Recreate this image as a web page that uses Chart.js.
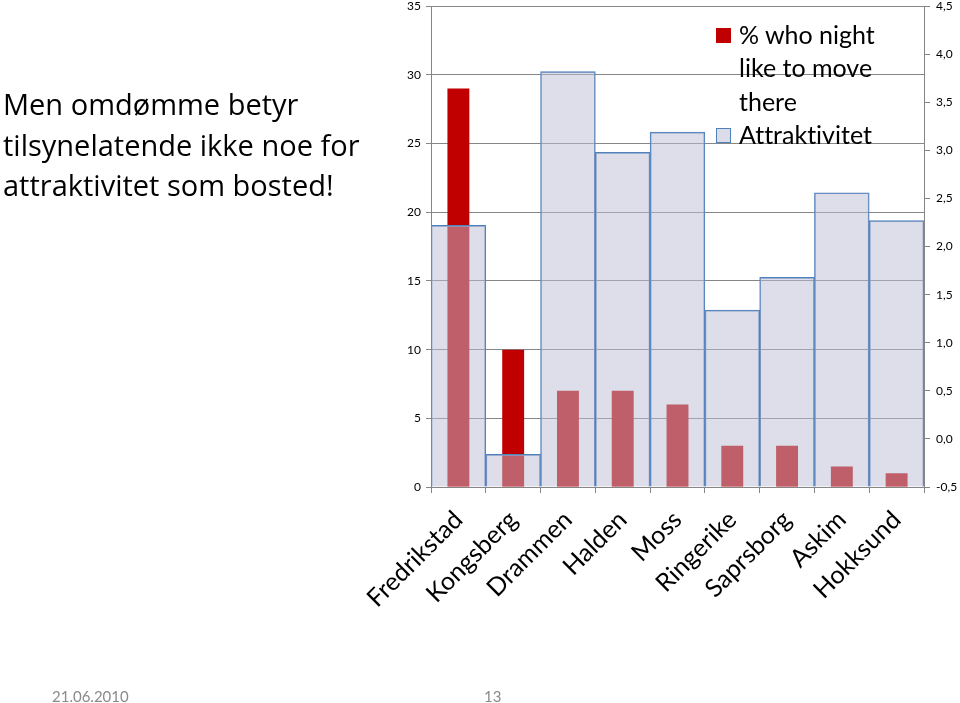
<!DOCTYPE html>
<html>
<head>
<meta charset="utf-8">
<script src="https://cdn.jsdelivr.net/npm/chart.js@4/dist/chart.umd.min.js"></script>
<style>
  html, body { margin:0; padding:0; background:#fff; }
  body { width:960px; height:703px; position:relative; overflow:hidden; font-family: Lato, "Open Sans", sans-serif; font-variant-ligatures: none; font-feature-settings: "liga" 0, "clig" 0; }
  #wrap { position:absolute; left:0; top:-7px; width:960px; height:710px; }
  #title { position:absolute; left:3px; top:84px; font-family:"Open Sans", sans-serif; font-size:29px; line-height:40.5px; color:#000; white-space:nowrap; }
  #legend { position:absolute; left:716px; top:18px; font-size:25px; line-height:33.3px; color:#000; }
  .li { position:relative; padding-left:23px; white-space:nowrap; }
  .sw { position:absolute; left:0; top:10px; width:15px; height:15px; box-sizing:border-box; }
  #foot1 { position:absolute; left:52px; top:687px; font-size:15px; color:#8a8a8a; }
  #foot2 { position:absolute; left:484px; top:687px; font-size:15px; color:#8a8a8a; }
</style>
</head>
<body>
<div id="wrap"><canvas id="c" width="960" height="710"></canvas></div>
<div id="title">Men omdømme betyr<br>tilsynelatende ikke noe for<br>attraktivitet som bosted!</div>
<div id="legend">
  <div class="li"><span class="sw" style="background:#C00000"></span>% who night<br>like to move<br>there</div>
  <div class="li"><span class="sw" style="background:#dcdbe8;border:1px solid #4F81BD"></span>Attraktivitet</div>
</div>
<div id="foot1">21.06.2010</div>
<div id="foot2">13</div>
<script>
const categories = ["Fredrikstad","Kongsberg","Drammen","Halden","Moss","Ringerike","Saprsborg","Askim","Hokksund"];
const moveValues = [29, 10, 7, 7, 6, 3, 3, 1.5, 1];
const attrValues = [2.22, -0.16, 3.82, 2.98, 3.19, 1.34, 1.68, 2.56, 2.27];
const seriesNames = ["% who night like to move there", "Attraktivitet"];

const FONT = "Lato, 'Open Sans', sans-serif";

new Chart(document.getElementById('c'), {
  type: 'bar',
  data: {
    labels: categories,
    datasets: [
      {
        label: seriesNames[0],
        data: moveValues,
        yAxisID: 'y',
        backgroundColor: '#C00000',
        borderWidth: 0,
        barPercentage: 0.4,
        categoryPercentage: 1,
        grouped: false,
        order: 1
      },
      {
        label: seriesNames[1],
        data: attrValues,
        yAxisID: 'y1',
        base: -0.5,
        backgroundColor: 'rgba(188,190,212,0.5)',
        borderColor: '#4F81BD',
        borderWidth: 1,
        barPercentage: 1,
        categoryPercentage: 1,
        grouped: false,
        order: 0
      }
    ]
  },
  options: {
    responsive: false,
    animation: false,
    layout: { padding: { top: 0, left: 0, right: 0, bottom: 0 } },
    plugins: { legend: { display: false }, tooltip: { enabled: false } },
    scales: {
      x: {
        offset: true,
        grid: { display: true, drawOnChartArea: false, drawTicks: true, tickLength: 6, color: '#868686', offset: true },
        border: { display: true, color: '#868686' },
        ticks: { minRotation: 45, maxRotation: 45, autoSkip: false, font: { family: FONT, size: 25 }, color: '#000', padding: 12 },
        afterFit: (s) => { s.height = 710 - 494; }
      },
      y: {
        position: 'left',
        min: 0, max: 35,
        ticks: { stepSize: 5, font: { family: FONT, size: 12 }, color: '#000', padding: 5 },
        grid: { color: '#868686', tickLength: 5 },
        border: { display: true, color: '#868686' },
        afterFit: (s) => { s.width = 431; }
      },
      y1: {
        position: 'right',
        min: -0.5, max: 4.5,
        ticks: { stepSize: 0.5, font: { family: FONT, size: 12 }, color: '#000', padding: 6,
          callback: (v) => v.toFixed(1).replace('.', ',') },
        grid: { drawOnChartArea: false, color: '#868686', tickLength: 6 },
        border: { display: true, color: '#868686' },
        afterFit: (s) => { s.width = 36; }
      }
    }
  }
});
</script>
</body>
</html>
